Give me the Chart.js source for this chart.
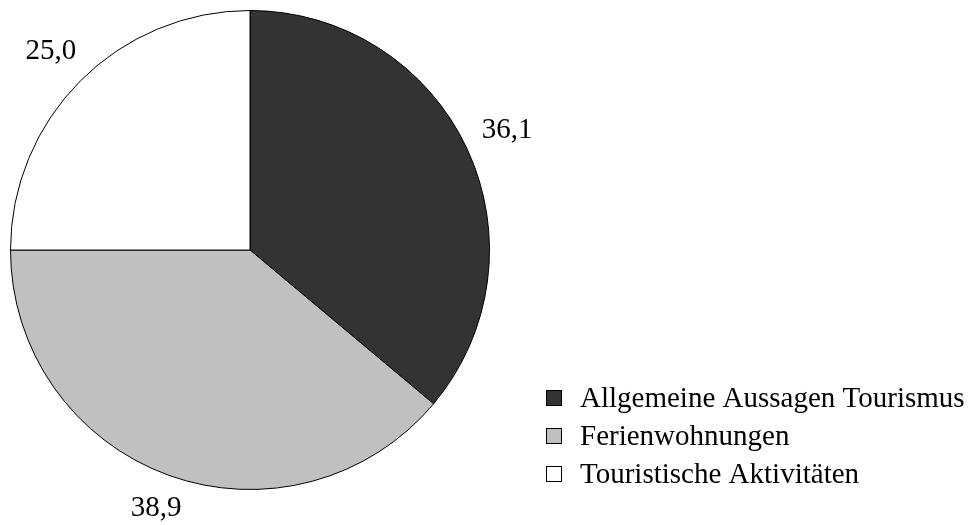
<!DOCTYPE html>
<html>
<head>
<meta charset="utf-8">
<script src="https://cdn.jsdelivr.net/npm/chart.js@4"></script>
<style>
  html, body { margin: 0; padding: 0; background: #fff; }
  #wrap { position: relative; width: 968px; height: 525px; }
</style>
</head>
<body>
<div id="wrap"><canvas id="pie"></canvas></div>
<script>
const categories = ['Allgemeine Aussagen Tourismus', 'Ferienwohnungen', 'Touristische Aktivitäten'];
const shares = [36.1, 38.9, 25.0];
const sliceColors = ['#333333', '#c0c0c0', '#ffffff'];

const FONT = '29px "Liberation Serif", "Times New Roman", serif';

// value labels outside the slices, decimal comma
const outsideLabels = {
  id: 'outsideLabels',
  afterDraw(chart) {
    const ctx = chart.ctx;
    const arcs = chart.getDatasetMeta(0).data;
    ctx.save();
    ctx.font = FONT;
    ctx.fillStyle = '#000';
    ctx.textAlign = 'center';
    ctx.textBaseline = 'middle';
    arcs.forEach((arc, i) => {
      const mid = (arc.startAngle + arc.endAngle) / 2;
      const text = shares[i].toFixed(1).replace('.', ',');
      const w = ctx.measureText(text).width;
      const h = 20;
      const dx = Math.cos(mid), dy = Math.sin(mid);
      const dist = arc.outerRadius + 17 + Math.abs(dx) * w / 2 + Math.abs(dy) * h / 2;
      ctx.fillText(text, arc.x + dx * dist, arc.y + dy * dist);
    });
    ctx.restore();
  }
};

// legend at bottom right
const sideLegend = {
  id: 'sideLegend',
  afterDraw(chart) {
    const ctx = chart.ctx;
    ctx.save();
    ctx.font = FONT;
    ctx.textBaseline = 'middle';
    categories.forEach((name, i) => {
      const y = 398 + i * 38;
      ctx.fillStyle = sliceColors[i];
      ctx.fillRect(546, y - 8, 16, 16);
      ctx.strokeStyle = '#000';
      ctx.lineWidth = 1;
      ctx.strokeRect(546.5, y - 7.5, 15, 15);
      ctx.fillStyle = '#000';
      ctx.fillText(name, 580, y + 1);
    });
    ctx.restore();
  }
};

new Chart(document.getElementById('pie'), {
  type: 'pie',
  data: {
    labels: categories,
    datasets: [{
      data: shares,
      backgroundColor: sliceColors,
      borderColor: '#000',
      borderWidth: 1
    }]
  },
  options: {
    responsive: true,
    maintainAspectRatio: false,
    animation: false,
    layout: { padding: { left: 10, top: 10, right: 478, bottom: 35 } },
    plugins: {
      legend: { display: false },
      tooltip: { enabled: false }
    }
  },
  plugins: [outsideLabels, sideLegend]
});
</script>
</body>
</html>
